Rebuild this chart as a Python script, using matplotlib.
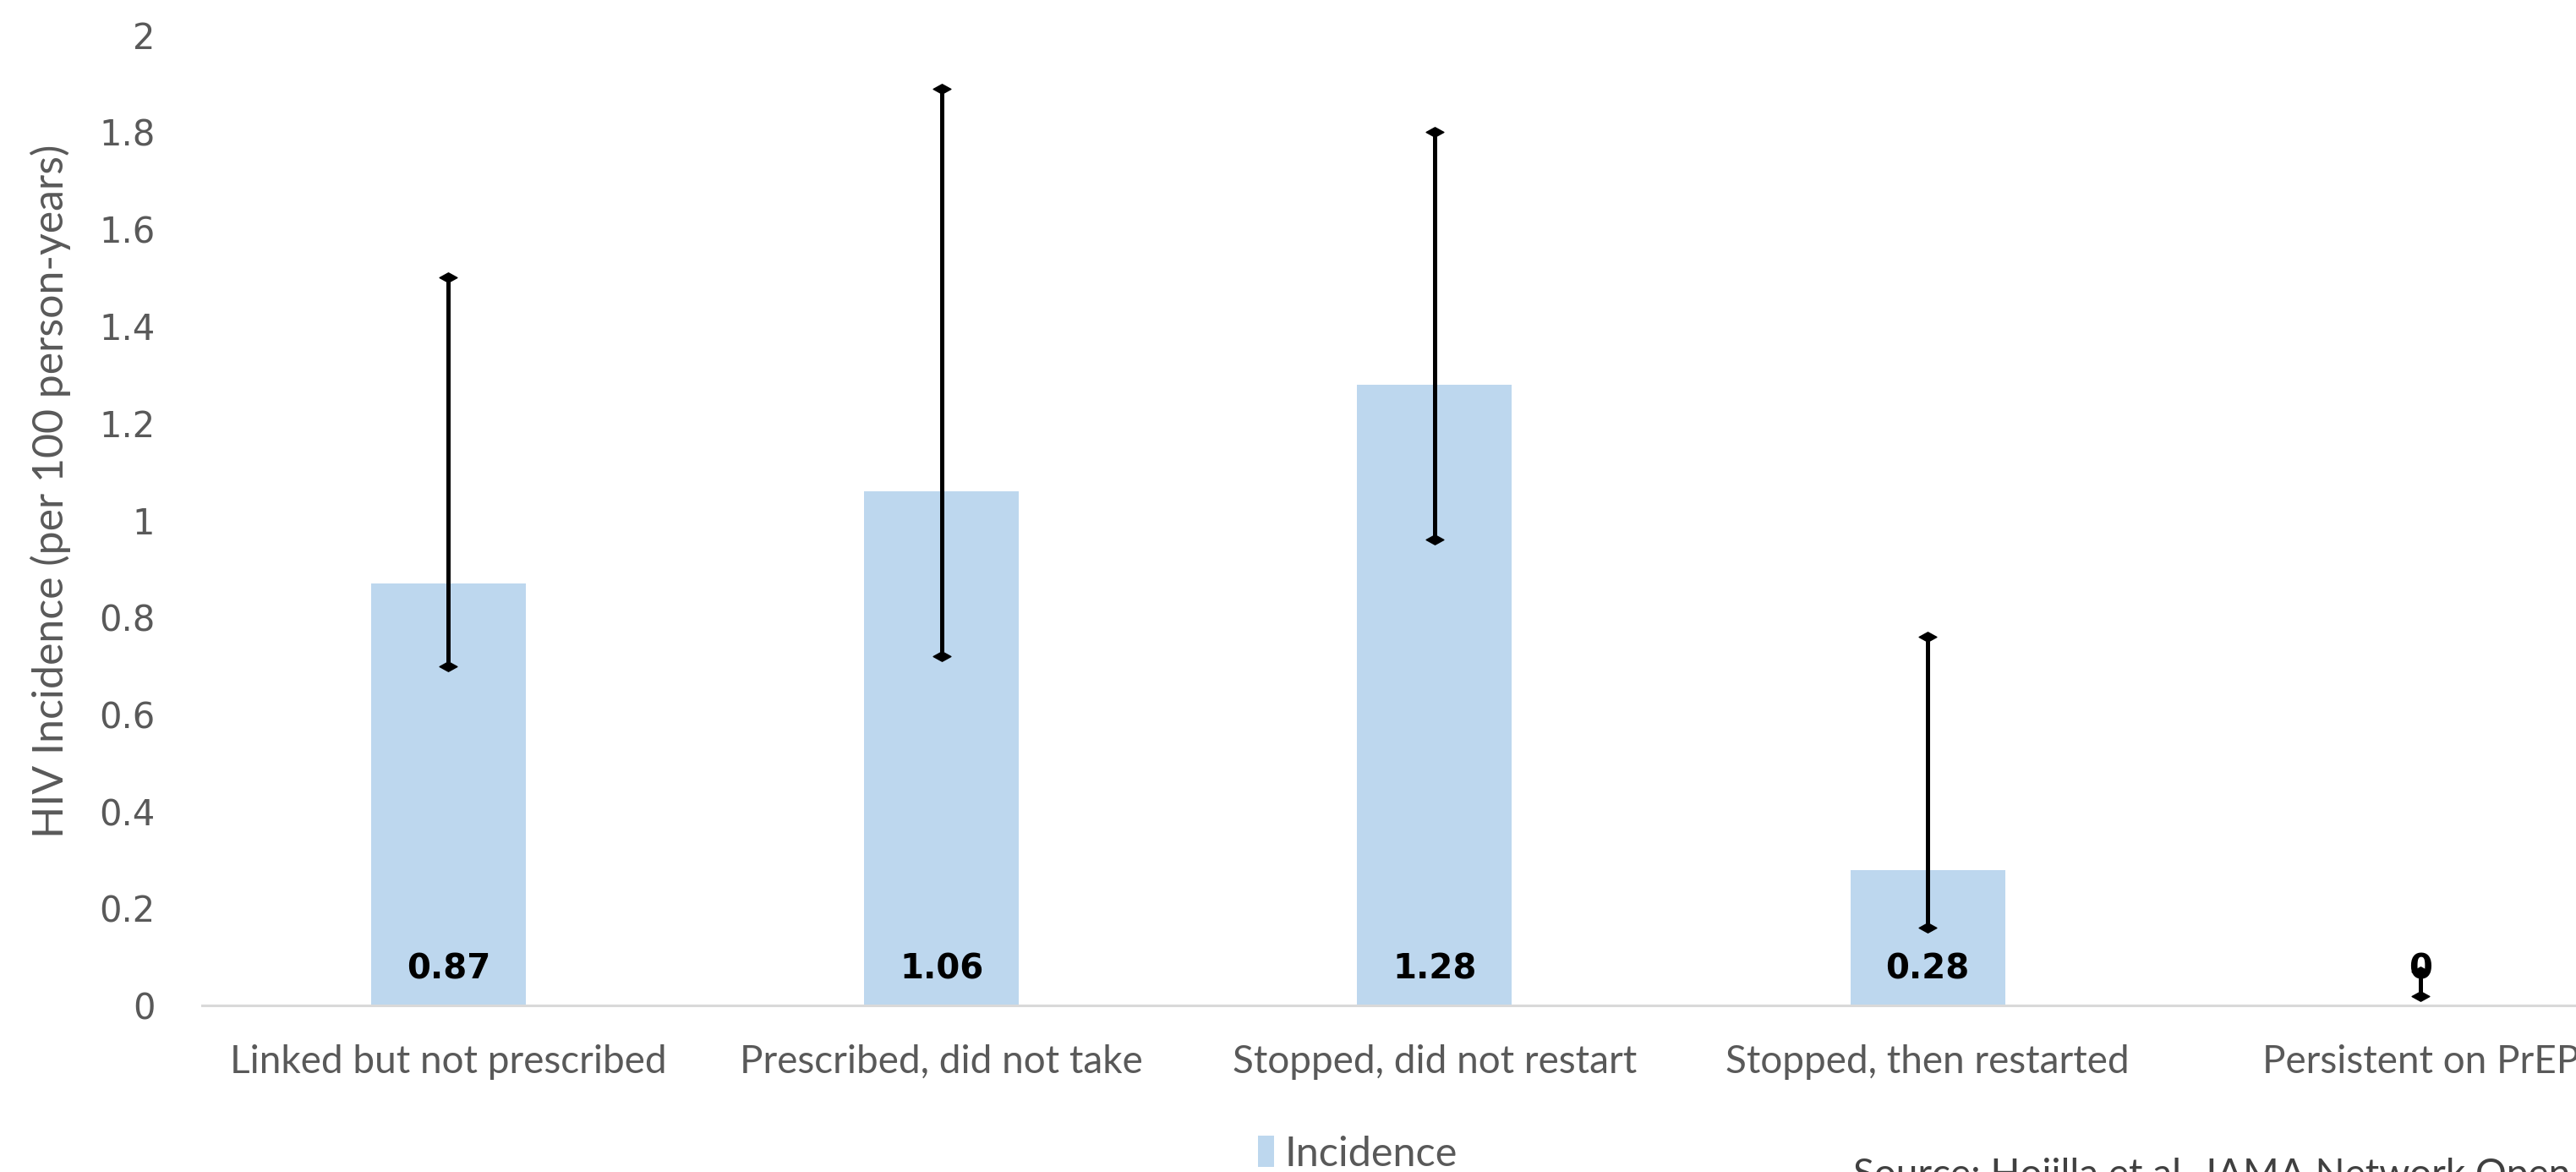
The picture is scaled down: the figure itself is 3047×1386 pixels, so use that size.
import numpy as np
import matplotlib
matplotlib.use("Agg")
import matplotlib.pyplot as plt
from matplotlib.path import Path

# data
categories = ["Linked but not prescribed", "Prescribed, did not take",
              "Stopped, did not restart", "Stopped, then restarted",
              "Persistent on PrEP"]
incidence = [0.87, 1.06, 1.28, 0.28, 0.0]
ci_low = [0.70, 0.72, 0.96, 0.16, 0.02]
ci_high = [1.50, 1.89, 1.80, 0.76, 0.07]
value_labels = ["0.87", "1.06", "1.28", "0.28", "0"]
yticks = [0, 0.2, 0.4, 0.6, 0.8, 1.0, 1.2, 1.4, 1.6, 1.8, 2.0]
ytick_labels = ["0", "0.2", "0.4", "0.6", "0.8", "1", "1.2", "1.4", "1.6", "1.8", "2"]

fig = plt.figure(figsize=(30.47, 13.86), dpi=100, facecolor="white")
# plot area runs past the right edge, like the cropped original
ax = fig.add_axes([0.0784, 0.142, 0.957, 0.828])

x = np.arange(len(categories))
bars = ax.bar(x, incidence, width=0.314, color="#BDD7EE", label="Incidence", zorder=1)

# flattened diamond caps
diamond = Path([(-1, 0), (0, 0.55), (1, 0), (0, -0.55), (-1, 0)],
               [Path.MOVETO, Path.LINETO, Path.LINETO, Path.LINETO, Path.CLOSEPOLY])
ax.vlines(x, ci_low, ci_high, color="black", lw=3.6, zorder=3)
ax.plot(x, ci_low, ls="none", marker=diamond, ms=15, color="black", zorder=4)
ax.plot(x, ci_high, ls="none", marker=diamond, ms=15, color="black", zorder=4)

for xi, lab in zip(x, value_labels):
    ax.text(xi, 0.075, lab, ha="center", va="center", fontsize=29,
            fontweight="bold", color="black", family="DejaVu Sans", zorder=5)

ax.set_xlim(-0.5, 4.5)
ax.set_ylim(0, 2)
ax.tick_params(axis="both", length=0)
ax.tick_params(axis="y", pad=40)
ax.tick_params(axis="x", pad=33)
ax.set_yticks(yticks)
ax.set_yticklabels(ytick_labels, fontsize=30, color="#595959", family="DejaVu Sans")
ax.set_xticks(x)
ax.set_xticklabels(categories, fontsize=33, color="#595959", family="Lato")

for s in ["top", "left", "right"]:
    ax.spines[s].set_visible(False)
ax.spines["bottom"].set_color("#D9D9D9")
ax.spines["bottom"].set_linewidth(2.2)

fig.text(0.0195, 0.581, "HIV Incidence (per 100 person-years)", rotation=90,
         ha="center", va="center", fontsize=36, color="#595959", family="Lato")

fig.legend(handles=[bars], loc="center", bbox_to_anchor=(0.527, 0.0155),
           frameon=False, prop={"family": "Lato", "size": 35},
           handlelength=0.4, handleheight=0.8, handletextpad=0.25,
           labelcolor="#595959")

fig.text(0.7195, -0.003, "Source: Hojilla et al. JAMA Network Open. 2020",
         ha="left", va="center", fontsize=33, color="#404040", family="Lato")

fig.savefig("out.png", dpi=100, facecolor="white")
